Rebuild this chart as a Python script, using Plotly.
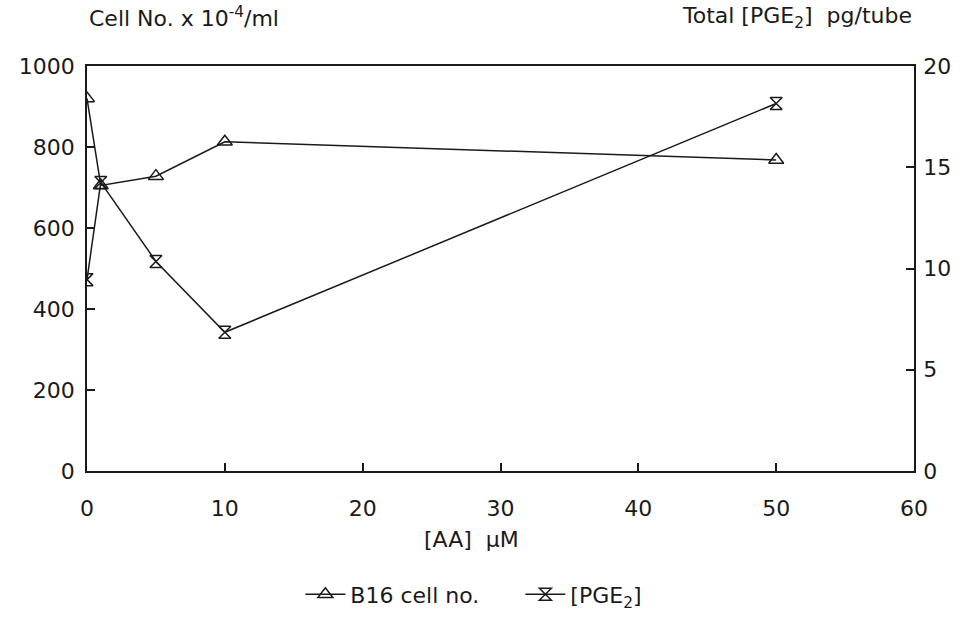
import plotly.graph_objects as go

# Arachidonic acid concentration (µM)
aa_conc = [0, 1, 5, 10, 50]
# B16 cell number (x 10^-4 / ml), left axis
cell_no = [920, 705, 728, 813, 768]
# Total PGE2 (pg/tube), right axis
pge2 = [9.45, 14.25, 10.35, 6.85, 18.15]

x_ticks = [0, 10, 20, 30, 40, 50, 60]
y1_ticks = [0, 200, 400, 600, 800, 1000]
y2_ticks = [0, 5, 10, 15, 20]

ink = "#1a1a1a"
font_family = "DejaVu Sans, Verdana, sans-serif"
fsize = 22

fig = go.Figure()
fig.add_trace(go.Scatter(
    x=aa_conc, y=cell_no, name="B16 cell no.",
    mode="lines+markers",
    line=dict(color=ink, width=1.5),
    marker=dict(symbol="triangle-up-open", size=13, color=ink, line=dict(width=1.5)),
    yaxis="y",
))
fig.add_trace(go.Scatter(
    x=aa_conc, y=pge2, name="[PGE<sub>2</sub>]",
    mode="lines+markers",
    line=dict(color=ink, width=1.5),
    marker=dict(symbol="hourglass-open", size=12, color=ink, line=dict(width=1.5)),
    yaxis="y2",
))

axis_common = dict(
    showline=True, linecolor=ink, linewidth=1.5,
    ticks="inside", ticklen=8, tickwidth=1.5, tickcolor=ink,
    showgrid=False, zeroline=False,
    tickfont=dict(family=font_family, size=fsize, color=ink),
)

fig.update_layout(
    width=963, height=628,
    margin=dict(l=87, r=45, t=66, b=149),
    paper_bgcolor="white", plot_bgcolor="white",
    font=dict(family=font_family, size=fsize, color=ink),
    xaxis=dict(range=[0, 60], tickvals=x_ticks, mirror=True,
               ticklabelstandoff=17, **axis_common),
    yaxis=dict(range=[0, 1000], tickvals=y1_ticks, ticklabelstandoff=6, **axis_common),
    yaxis2=dict(range=[0, 20], tickvals=y2_ticks, overlaying="y", side="right",
                ticklabelstandoff=3, **axis_common),
    legend=dict(orientation="h", x=0.258, y=-0.305, xanchor="left", yanchor="middle",
                font=dict(family=font_family, size=fsize, color=ink),
                entrywidth=165, entrywidthmode="pixels", itemwidth=40,
                tracegroupgap=0),
    showlegend=True,
)

fig.add_annotation(text="Cell No. x 10<sup>-4</sup>/ml", xref="paper", yref="paper",
                   x=0, y=1.12, xanchor="left", yanchor="middle", showarrow=False,
                   font=dict(family=font_family, size=fsize, color=ink))
fig.add_annotation(text="Total [PGE<sub>2</sub>]\u00a0\u00a0pg/tube", xref="paper", yref="paper",
                   x=1, y=1.12, xanchor="right", yanchor="middle", showarrow=False,
                   font=dict(family=font_family, size=fsize, color=ink))
fig.add_annotation(text="[AA]\u00a0\u00a0µM", xref="paper", yref="paper",
                   x=0.465, y=-0.17, xanchor="center", yanchor="middle", showarrow=False,
                   font=dict(family=font_family, size=fsize, color=ink))

fig.write_html("out.html")
